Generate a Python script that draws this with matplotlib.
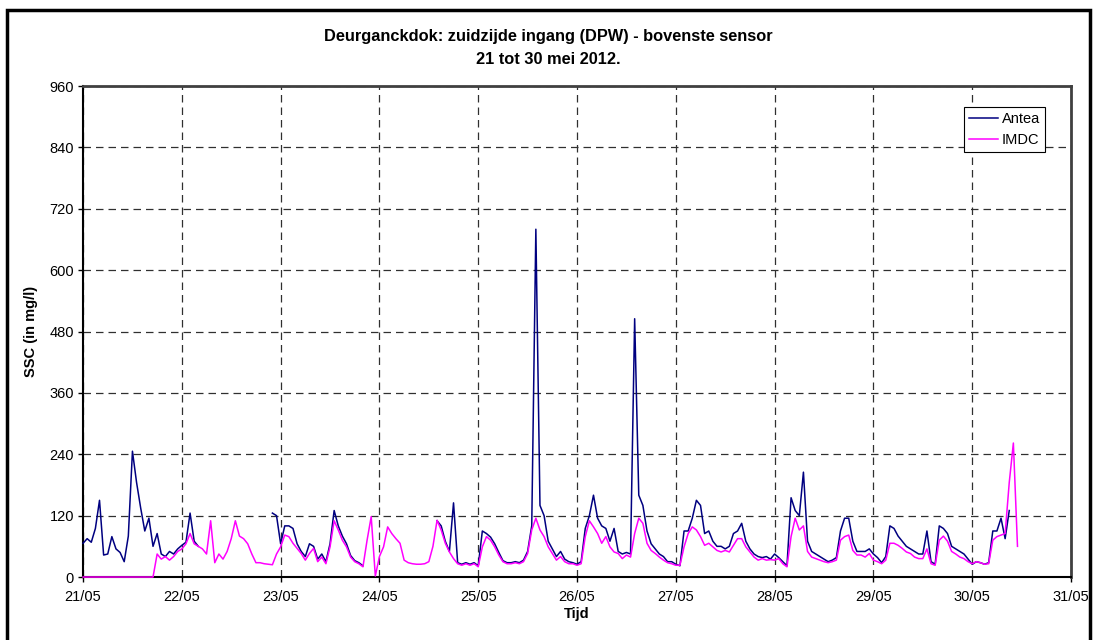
import matplotlib
matplotlib.use('Agg')
from matplotlib import pyplot as plt
from matplotlib.patches import Rectangle
import matplotlib.dates as mdates
import numpy as np
import pandas as pd

nan = np.nan
start = '2012-05-21 00:00'

# hourly SSC values (mg/l), one row per day
antea = [
    66, 75, 68, 95, 150, 43, 45, 79, 55, 48, 30, 80, 246, 185, 135, 90, 115, 60, 85, 45, 40, 50, 45, 55,
    62, 68, 125, 70, 60, nan, nan, nan, nan, nan, nan, nan, nan, nan, nan, nan, nan, nan, nan, nan, nan, nan, 125, 120,
    65, 100, 100, 95, 65, 50, 40, 65, 60, 35, 45, 30, 65, 130, 100, 80, 65, 42, 32, 28, 22, nan, nan, nan,
    nan, nan, nan, nan, nan, nan, nan, nan, nan, nan, nan, nan, nan, nan, 110, 100, 70, 50, 145, 28, 25, 28, 25, 28,
    22, 90, 85, 78, 65, 48, 32, 28, 28, 30, 28, 33, 50, 100, 680, 140, 120, 70, 55, 40, 50, 35, 30, 28,
    25, 30, 95, 120, 160, 115, 100, 95, 70, 95, 50, 45, 48, 45, 505, 160, 140, 90, 65, 55, 45, 40, 30, 30,
    25, 22, 90, 90, 115, 150, 140, 85, 90, 70, 60, 60, 55, 60, 85, 90, 105, 70, 55, 45, 40, 38, 40, 35,
    45, 38, 30, 22, 155, 130, 120, 205, 70, 50, 45, 40, 35, 30, 33, 38, 90, 115, 115, 70, 50, 50, 50, 55,
    45, 38, 28, 40, 100, 95, 80, 70, 60, 55, 50, 45, 45, 90, 30, 25, 100, 95, 85, 60, 55, 50, 45, 35,
    25, 30, 28, 25, 28, 90, 90, 115, 75, 130,
]

imdc = [
    0, 0, 0, 0, 0, 0, 0, 0, 0, 0, 0, 0, 0, 0, 0, 0, 0, 0, 45, 35, 40, 33, 40, 50,
    55, 65, 85, 65, 60, 55, 45, 110, 28, 45, 35, 50, 75, 110, 80, 75, 65, 45, 28, 28, 26, 25, 24, 45,
    59, 82, 79, 66, 56, 46, 33, 46, 56, 30, 39, 26, 59, 110, 92, 72, 59, 39, 30, 26, 20, 72, 118, 2,
    40, 59, 98, 85, 75, 66, 33, 28, 26, 25, 25, 26, 30, 60, 111, 92, 66, 49, 36, 26, 23, 26, 23, 26,
    20, 59, 79, 72, 59, 43, 30, 26, 26, 28, 26, 30, 46, 92, 115, 92, 79, 59, 46, 33, 40, 30, 26, 26,
    23, 26, 79, 110, 98, 85, 66, 79, 59, 49, 46, 36, 43, 39, 85, 115, 105, 66, 52, 46, 39, 33, 28, 26,
    23, 23, 59, 85, 98, 92, 79, 62, 66, 59, 52, 49, 52, 49, 62, 75, 75, 59, 49, 39, 33, 36, 33, 34,
    33, 36, 26, 20, 79, 115, 92, 100, 50, 39, 36, 33, 30, 28, 30, 33, 72, 79, 82, 52, 43, 43, 39, 46,
    33, 30, 26, 33, 66, 66, 62, 56, 49, 46, 39, 36, 36, 55, 26, 23, 72, 80, 70, 50, 45, 39, 36, 30,
    26, 30, 28, 25, 26, 72, 79, 82, 85, 185, 262, 60,
]

series_names = ['Antea', 'IMDC']
y_ticks = [0, 120, 240, 360, 480, 600, 720, 840, 960]

plt.rcParams['font.family'] = ['Liberation Sans', 'DejaVu Sans']

t_antea = pd.date_range(start, periods=len(antea), freq='h')
t_imdc = pd.date_range(start, periods=len(imdc), freq='h')

fig = plt.figure(figsize=(10.97, 6.4), dpi=100)
ax = fig.add_axes([0.0757, 0.0984, 0.9006, 0.7672])

l1, = ax.plot(t_antea, antea, color='#000080', lw=1.1, label=series_names[0],
              zorder=3, clip_on=False)
l2, = ax.plot(t_imdc, imdc, color='#FF00FF', lw=1.1, label=series_names[1],
              zorder=3, clip_on=False)

ax.set_xlim(pd.Timestamp('2012-05-21'), pd.Timestamp('2012-05-31'))
ax.set_ylim(0, 960)
ax.set_yticks(y_ticks)
ax.xaxis.set_major_locator(mdates.DayLocator())
ax.xaxis.set_major_formatter(mdates.DateFormatter('%d/%m'))

ax.grid(True, color='#303030', linestyle=(0, (6, 4)), linewidth=0.9)
ax.set_axisbelow(True)
ax.tick_params(axis='both', direction='out', length=3.6, width=1, labelsize=10.5)
ax.tick_params(axis='x', pad=6)
ax.tick_params(axis='y', pad=3)

for side in ['left', 'bottom']:
    ax.spines[side].set_color('black')
    ax.spines[side].set_linewidth(1.5)
for side in ['top', 'right']:
    ax.spines[side].set_color('#404040')
    ax.spines[side].set_linewidth(2)

ax.set_xlabel('Tijd', fontsize=10.5, fontweight='bold', labelpad=2)
ax.set_ylabel('SSC (in mg/l)', fontsize=10.5, fontweight='bold', labelpad=8)

fig.text(0.5, 1 - 36 / 640, 'Deurganckdok: zuidzijde ingang (DPW) - bovenste sensor',
         ha='center', va='center', fontsize=11.8, fontweight='bold')
fig.text(0.5, 1 - 60 / 640, '21 tot 30 mei 2012.',
         ha='center', va='center', fontsize=11.8, fontweight='bold')

leg = ax.legend(handles=[l1, l2], loc='upper right', bbox_to_anchor=(1045 / 1097, 1 - 107 / 640),
                bbox_transform=fig.transFigure, fontsize=10.5, fancybox=False, framealpha=1,
                edgecolor='black', handlelength=2.0, borderpad=0.35, labelspacing=0.5,
                handletextpad=0.25, borderaxespad=0)
leg.get_frame().set_linewidth(0.8)

fig.patches.append(Rectangle((7 / 1097, -0.05), (1090 - 7) / 1097, 1.05 - 10 / 640,
                             transform=fig.transFigure, fill=False, edgecolor='black',
                             linewidth=2.5, clip_on=False))

fig.savefig('out.png', dpi=100)
